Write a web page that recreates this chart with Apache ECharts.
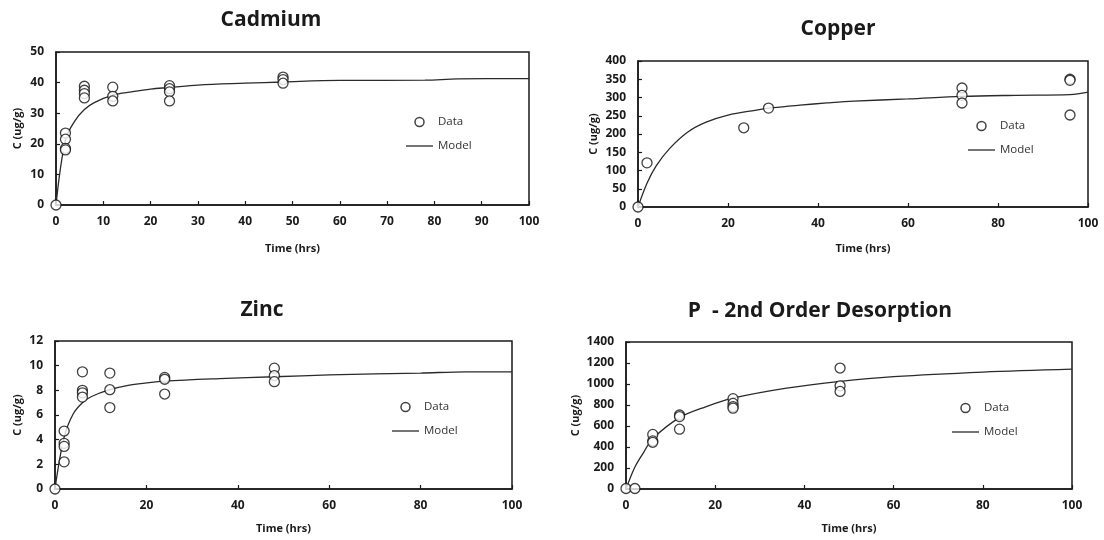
<!DOCTYPE html>
<html>
<head>
<meta charset="utf-8">
<title>Desorption kinetics</title>
<script src="https://cdn.jsdelivr.net/npm/echarts@6/dist/echarts.min.js"></script>
<style>
  html, body { margin: 0; padding: 0; background: #ffffff; }
  #chart { width: 1104px; height: 540px; }
</style>
</head>
<body>
<div id="chart"></div>
<script>
// ---- Cadmium ----
const cdDataTime  = [0, 2, 2, 2, 2, 6, 6, 6, 6, 12, 12, 12, 24, 24, 24, 24, 48, 48, 48];
const cdDataConc  = [0, 23.5, 21.5, 18.5, 18, 38.8, 37.5, 36.4, 35, 38.5, 35.5, 34, 39, 38, 37, 34, 41.8, 41, 39.8];
const cdModelTime = [0, 2, 4, 6, 8, 12, 16, 20, 24, 30, 40, 48, 60, 78, 85, 100];
const cdModelConc = [0, 21.3, 27.5, 31.2, 33.4, 35.9, 37, 37.9, 38.4, 39.2, 39.8, 40.2, 40.7, 40.8, 41.2, 41.3];

// ---- Copper ----
const cuDataTime  = [0, 2, 23.5, 29, 72, 72, 72, 96, 96, 96];
const cuDataConc  = [0, 121, 217, 271, 326, 306, 285, 350, 347, 252];
const cuModelTime = [0, 2, 4, 7, 11, 15, 20, 26, 30, 36, 42, 48, 60, 72, 84, 96, 100];
const cuModelConc = [0, 65, 112, 160, 205, 232, 252, 265, 272, 279, 285, 290, 296, 303, 306, 308, 315];

// ---- Zinc ----
const znDataTime  = [0, 2, 2, 2, 2, 6, 6, 6, 6, 12, 12, 12, 24, 24, 24, 48, 48, 48];
const znDataConc  = [0, 4.7, 3.7, 3.45, 2.2, 9.5, 8.0, 7.8, 7.45, 9.4, 8.05, 6.6, 9.05, 8.9, 7.7, 9.8, 9.2, 8.7];
const znModelTime = [0, 2, 4, 6, 8, 12, 16, 20, 24, 36, 48, 60, 80, 90, 100];
const znModelConc = [0, 4.2, 6.1, 7.0, 7.5, 8.05, 8.4, 8.6, 8.75, 8.95, 9.1, 9.25, 9.4, 9.5, 9.5];

// ---- Phosphorus (2nd order desorption) ----
const pDataTime  = [0, 2, 6, 6, 6, 12, 12, 12, 24, 24, 24, 24, 48, 48, 48];
const pDataConc  = [5, 5, 520, 458, 445, 705, 690, 570, 860, 815, 785, 770, 1152, 983, 929];
const pModelTime = [0, 2, 4, 6, 12, 18, 24, 36, 48, 60, 80, 100];
const pModelConc = [0, 210, 352, 480, 680, 785, 865, 960, 1025, 1070, 1114, 1142];

// panel titles and axis ranges
const panelTitles = ['Cadmium', 'Copper', 'Zinc', 'P  - 2nd Order Desorption'];
const yMax        = [50, 400, 12, 1400];
const yStep       = [10, 50, 2, 200];
const xStep       = [10, 20, 20, 20];

const pair = (xs, ys) => xs.map((x, i) => [x, ys[i]]);

const panels = [
  { data: pair(cdDataTime, cdDataConc), model: pair(cdModelTime, cdModelConc),
    grid: { left: 56, top: 52, width: 473, height: 153 },
    title: { x: 271, y: 10 }, legend: { left: 406, top: 115 }, yGap: 33, xGap: 38 },
  { data: pair(cuDataTime, cuDataConc), model: pair(cuModelTime, cuModelConc),
    grid: { left: 638, top: 61, width: 450, height: 146 },
    title: { x: 838, y: 19 }, legend: { left: 968, top: 119 }, yGap: 39, xGap: 36 },
  { data: pair(znDataTime, znDataConc), model: pair(znModelTime, znModelConc),
    grid: { left: 55, top: 341, width: 457, height: 148 },
    title: { x: 262, y: 300 }, legend: { left: 392, top: 400 }, yGap: 32, xGap: 34 },
  { data: pair(pDataTime, pDataConc), model: pair(pModelTime, pModelConc),
    grid: { left: 626, top: 342, width: 446, height: 147 },
    title: { x: 820, y: 301 }, legend: { left: 952, top: 401 }, yGap: 45, xGap: 34 }
];

const FONT = "'Open Sans', 'Noto Sans', sans-serif";
const INK = '#1a1a1a';
const LINE = '#2a2a2a';

const option = {
  backgroundColor: '#ffffff',
  animation: false,
  textStyle: { fontFamily: FONT },
  title: panels.map((p, i) => ({
    text: panelTitles[i],
    left: p.title.x,
    top: p.title.y,
    textAlign: 'center',
    padding: 0,
    textStyle: { fontFamily: FONT, fontSize: 21, fontWeight: 'bold', color: INK }
  })),
  legend: panels.map((p) => ({
    data: [
      { name: 'Data', itemStyle: { borderWidth: 1.5 } },
      { name: 'Model', icon: 'path://M0 0H27V1.3H0Z' }
    ],
    orient: 'vertical',
    left: p.legend.left,
    top: p.legend.top,
    padding: 0,
    itemWidth: 27,
    itemHeight: 9,
    itemGap: 10,
    selectedMode: false,
    textStyle: { fontFamily: FONT, fontSize: 11.5, color: '#333', lineHeight: 14 }
  })),
  grid: panels.map((p) => Object.assign({
    show: true, borderColor: INK, borderWidth: 1.5, backgroundColor: 'transparent'
  }, p.grid)),
  xAxis: panels.map((p, i) => ({
    type: 'value',
    gridIndex: i,
    min: 0, max: 100, interval: xStep[i],
    name: 'Time (hrs)',
    nameLocation: 'middle',
    nameGap: p.xGap,
    nameTextStyle: { fontFamily: FONT, fontSize: 11, fontWeight: 'bold', color: INK },
    axisLine: { show: true, onZero: false, lineStyle: { color: INK, width: 1.5 } },
    axisTick: { show: true, inside: true, length: 4, lineStyle: { color: INK, width: 1.2 } },
    axisLabel: { margin: 11, fontFamily: FONT, fontSize: 12, fontWeight: 'bold', color: INK,
                 formatter: (v) => String(v) },
    splitLine: { show: false }
  })),
  yAxis: panels.map((p, i) => ({
    type: 'value',
    gridIndex: i,
    min: 0, max: yMax[i], interval: yStep[i],
    name: 'C (ug/g)',
    nameLocation: 'middle',
    nameGap: p.yGap,
    nameTextStyle: { fontFamily: FONT, fontSize: 11, fontWeight: 'bold', color: INK },
    axisLine: { show: true, onZero: false, lineStyle: { color: INK, width: 1.5 } },
    axisTick: { show: true, inside: true, length: 4, lineStyle: { color: INK, width: 1.2 } },
    axisLabel: { margin: 12, fontFamily: FONT, fontSize: 12, fontWeight: 'bold', color: INK,
                 formatter: (v) => String(v) },
    splitLine: { show: false }
  })),
  series: panels.flatMap((p, i) => [
    {
      name: 'Model',
      type: 'line',
      xAxisIndex: i, yAxisIndex: i,
      data: p.model,
      symbol: 'none',
      smooth: 0.35,
      lineStyle: { color: LINE, width: 1.3 },
      itemStyle: { color: LINE },
      z: 2
    },
    {
      name: 'Data',
      type: 'scatter',
      xAxisIndex: i, yAxisIndex: i,
      data: p.data,
      symbol: 'circle',
      symbolSize: 10,
      clip: false,
      itemStyle: { color: '#ffffff', borderColor: '#111111', borderWidth: 1.3 },
      z: 3
    }
  ])
};

const chart = echarts.init(document.getElementById('chart'), null, { renderer: 'canvas' });
chart.setOption(option);
</script>
</body>
</html>
